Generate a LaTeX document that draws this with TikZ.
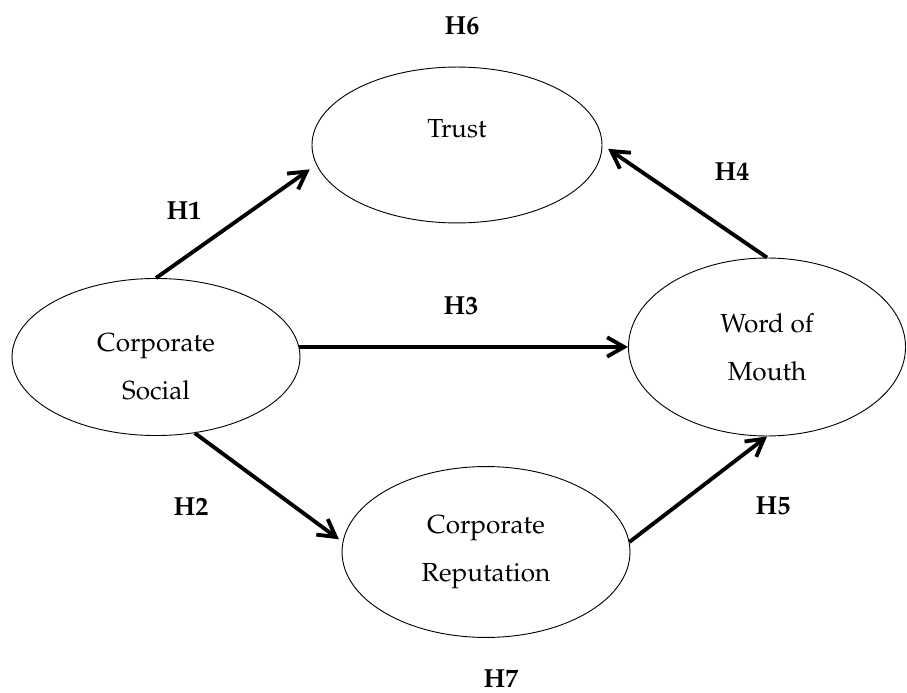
\documentclass[tikz,border=0pt]{standalone}
\usepackage[T1]{fontenc}
\usepackage{mathpazo}
\usetikzlibrary{arrows.meta,shapes.geometric}

\begin{document}
\begin{tikzpicture}
      [x = 0.44pt, y = -0.44pt,
      font = \fontsize{11.5}{14}\selectfont,
      path/.style={-{Straight Barb[length = 7.5pt, width = 8.5pt]}, line width = 1.7pt},
      oval/.style= {
         draw,
         ellipse,
         line width = 0.4pt,
         inner sep = 0pt,
         align = center
      },
      hyp/.style= {
         font = \fontsize{11.5}{14}\selectfont\bfseries,
         inner sep = 0pt
      }]

      \useasboundingbox (0, 0) rectangle (907, 693);

      \node[oval, minimum width = 127.6pt, minimum height = 68.6pt, text depth = 15pt] (trust) at (457, 145) {Trust};
      \node[oval, minimum width = 126.7pt, minimum height = 69.1pt] (csr) at (156, 357) {\rule{0pt}{16.8pt}Corporate\\[7pt]Social};
      \node[oval, minimum width = 121.9pt, minimum height = 78.3pt] (wom) at (767, 347) {Word of\\[7pt]Mouth};
      \node[oval, minimum width = 126.7pt, minimum height = 75.2pt] (rep) at (486, 552) {Corporate\\[7pt]Reputation};

      \draw[path, shorten >= 3.5pt] (csr.north) -- (trust.188);
      \draw[path] (csr.4) -- (csr.4 -| wom.west);
      \draw[path, shorten >= 2pt] (csr.-63) -- (rep.176);
      \draw[path, shorten >= 3pt] (wom.north) -- (trust.east);
      \draw[path] (rep.4) -- (wom.south);

      \node[hyp] (h1) at (184, 211) {H1};
      \node[hyp] (h2) at (191, 507) {H2};
      \node[hyp] (h3) at (461, 306) {H3};
      \node[hyp] (h4) at (732, 172) {H4};
      \node[hyp] (h5) at (773, 506) {H5};
      \node[hyp] (h6) at (462, 26) {H6};
      \node[hyp] (h7) at (501, 679) {H7};

   \end{tikzpicture}
\end{document}
